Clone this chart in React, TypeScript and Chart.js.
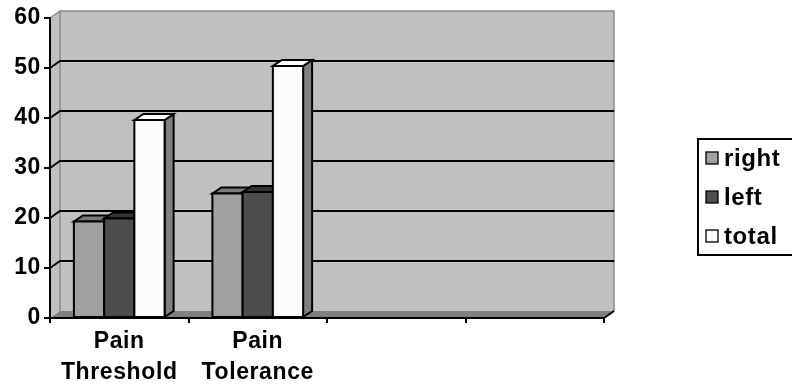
import React, { useEffect, useRef } from "react";
import { Chart, registerables } from "chart.js";

Chart.register(...registerables);

const categories: (string | string[])[] = [["Pain", "Threshold"], ["Pain", "Tolerance"], "", ""];
const seriesNames = ["right", "left", "total"];
const rightValues = [19.3, 24.9, null, null];
const leftValues = [19.9, 25.2, null, null];
const totalValues = [39.6, 50.4, null, null];
const yMin = 0;
const yMax = 60;
const yStep = 10;

const FRONT = ["#a0a0a0", "#4d4d4d", "#fcfcfc"];
const TOP = ["#7a7a7a", "#333333", "#ffffff"];
const SIDE = ["#808080", "#2b2b2b", "#808080"];

const FONT = "'Liberation Sans', Arial, sans-serif";
const SPACING = "0.6px";
const DX = 10;
const DY = -7;
const BDX = 9;
const BDY = -6;

function poly(ctx: CanvasRenderingContext2D, pts: number[][], fill: string | null, stroke: string | null, lw = 2) {
  ctx.beginPath();
  ctx.moveTo(pts[0][0], pts[0][1]);
  for (let i = 1; i < pts.length; i++) ctx.lineTo(pts[i][0], pts[i][1]);
  ctx.closePath();
  if (fill) {
    ctx.fillStyle = fill;
    ctx.fill();
  }
  if (stroke) {
    ctx.strokeStyle = stroke;
    ctx.lineWidth = lw;
    ctx.lineJoin = "miter";
    ctx.stroke();
  }
}

const threeD = {
  id: "threeD",
  beforeDraw(chart: any) {
    const { ctx, chartArea, scales } = chart;
    (ctx as any).letterSpacing = SPACING;
    const { left, right, top, bottom } = chartArea;
    const y = scales.y;
    ctx.save();
    // back wall
    poly(ctx, [[left + DX, top + DY], [right + DX, top + DY], [right + DX, bottom + DY], [left + DX, bottom + DY]], "#c0c0c0", null);
    // side wall
    poly(ctx, [[left, top], [left + DX, top + DY], [left + DX, bottom + DY], [left, bottom]], "#c0c0c0", null);
    // wall outline
    ctx.strokeStyle = "#8a8a8a";
    ctx.lineWidth = 1.5;
    ctx.beginPath();
    ctx.moveTo(left, top);
    ctx.lineTo(left + DX, top + DY);
    ctx.lineTo(right + DX, top + DY);
    ctx.lineTo(right + DX, bottom + DY);
    ctx.moveTo(left + DX, top + DY);
    ctx.lineTo(left + DX, bottom + DY);
    ctx.stroke();
    // floor
    poly(ctx, [[left, bottom], [left + DX, bottom + DY], [right + DX, bottom + DY], [right, bottom]], "#808080", null);
    // grid lines
    ctx.strokeStyle = "#000";
    ctx.lineWidth = 2;
    for (let v = yMin + yStep; v < yMax; v += yStep) {
      const yy = y.getPixelForValue(v);
      ctx.beginPath();
      ctx.moveTo(left, yy);
      ctx.lineTo(left + DX, yy + DY);
      ctx.lineTo(right + DX, yy + DY);
      ctx.stroke();
    }
    // floor right edge
    ctx.beginPath();
    ctx.moveTo(right, bottom);
    ctx.lineTo(right + DX, bottom + DY);
    ctx.stroke();
    ctx.restore();
  },
  afterDatasetsDraw(chart: any) {
    const { ctx } = chart;
    ctx.save();
    chart.data.datasets.forEach((ds: any, d: number) => {
      const meta = chart.getDatasetMeta(d);
      meta.data.forEach((bar: any, i: number) => {
        if (ds.data[i] === null || ds.data[i] === undefined) return;
        const p = bar.getProps(["x", "y", "base", "width"], true);
        const x1 = p.x - p.width / 2;
        const x2 = p.x + p.width / 2;
        const yt = p.y;
        const yb = p.base;
        poly(ctx, [[x2, yt], [x2 + BDX, yt + BDY], [x2 + BDX, yb + BDY], [x2, yb]], SIDE[d], "#000");
        poly(ctx, [[x1, yt], [x1 + BDX, yt + BDY], [x2 + BDX, yt + BDY], [x2, yt]], TOP[d], "#000");
        poly(ctx, [[x1, yt], [x2, yt], [x2, yb], [x1, yb]], FRONT[d], "#000");
      });
    });
    ctx.restore();
  },
  afterDraw(chart: any) {
    const { ctx } = chart;
    ctx.save();
    ctx.strokeStyle = "#000";
    ctx.lineWidth = 2;
    ctx.strokeRect(698, 139, 110, 116);
    const ys = [158, 197, 236];
    ctx.font = `bold 24px ${FONT}`;
    (ctx as any).letterSpacing = SPACING;
    ctx.textBaseline = "middle";
    ctx.textAlign = "left";
    seriesNames.forEach((name, i) => {
      const cy = ys[i];
      ctx.fillStyle = FRONT[i];
      ctx.fillRect(706, cy - 6, 12, 12);
      ctx.lineWidth = 1.3;
      ctx.strokeRect(706, cy - 6, 12, 12);
      ctx.fillStyle = "#000";
      ctx.fillText(name, 724, cy + 1);
    });
    ctx.restore();
  },
};

export default function App() {
  const ref = useRef<HTMLCanvasElement>(null);
  useEffect(() => {
    if (!ref.current) return;
    const chart = new Chart(ref.current, {
      type: "bar",
      data: {
        labels: categories as any,
        datasets: [
          { label: seriesNames[0], data: rightValues as any, backgroundColor: FRONT[0], borderColor: "#000", borderWidth: 0 },
          { label: seriesNames[1], data: leftValues as any, backgroundColor: FRONT[1], borderColor: "#000", borderWidth: 0 },
          { label: seriesNames[2], data: totalValues as any, backgroundColor: FRONT[2], borderColor: "#000", borderWidth: 0 },
        ],
      },
      options: {
        responsive: false,
        animation: false,
        devicePixelRatio: 1,
        layout: { padding: { top: 18, right: 188, left: 0, bottom: 0 } },
        plugins: { legend: { display: false }, tooltip: { enabled: false } },
        datasets: { bar: { categoryPercentage: 0.655, barPercentage: 1.0 } },
        scales: {
          y: {
            min: yMin,
            max: yMax,
            ticks: { stepSize: yStep, color: "#000", font: { family: FONT, size: 23, weight: "bold" }, padding: 3 },
            grid: { drawOnChartArea: false, tickLength: 6, color: "#000", lineWidth: 2 },
            border: { color: "#000", width: 2 },
            afterFit: (s: any) => { s.width = 50; },
          },
          x: {
            ticks: { color: "#000", font: { family: FONT, size: 23, weight: "bold", lineHeight: 1.36 }, padding: 3, maxRotation: 0, autoSkip: false },
            grid: { drawOnChartArea: false, offset: true, tickLength: 5, color: "#000", lineWidth: 2 },
            border: { color: "#000", width: 2 },
            afterFit: (s: any) => { s.height = 67; },
          },
        },
      } as any,
      plugins: [threeD],
    });
    return () => chart.destroy();
  }, []);
  return (
    <div style={{ position: "fixed", left: 0, top: 0, width: 792, height: 385, background: "#fff" }}>
      <canvas ref={ref} width={792} height={385} style={{ width: 792, height: 385 }} />
    </div>
  );
}
